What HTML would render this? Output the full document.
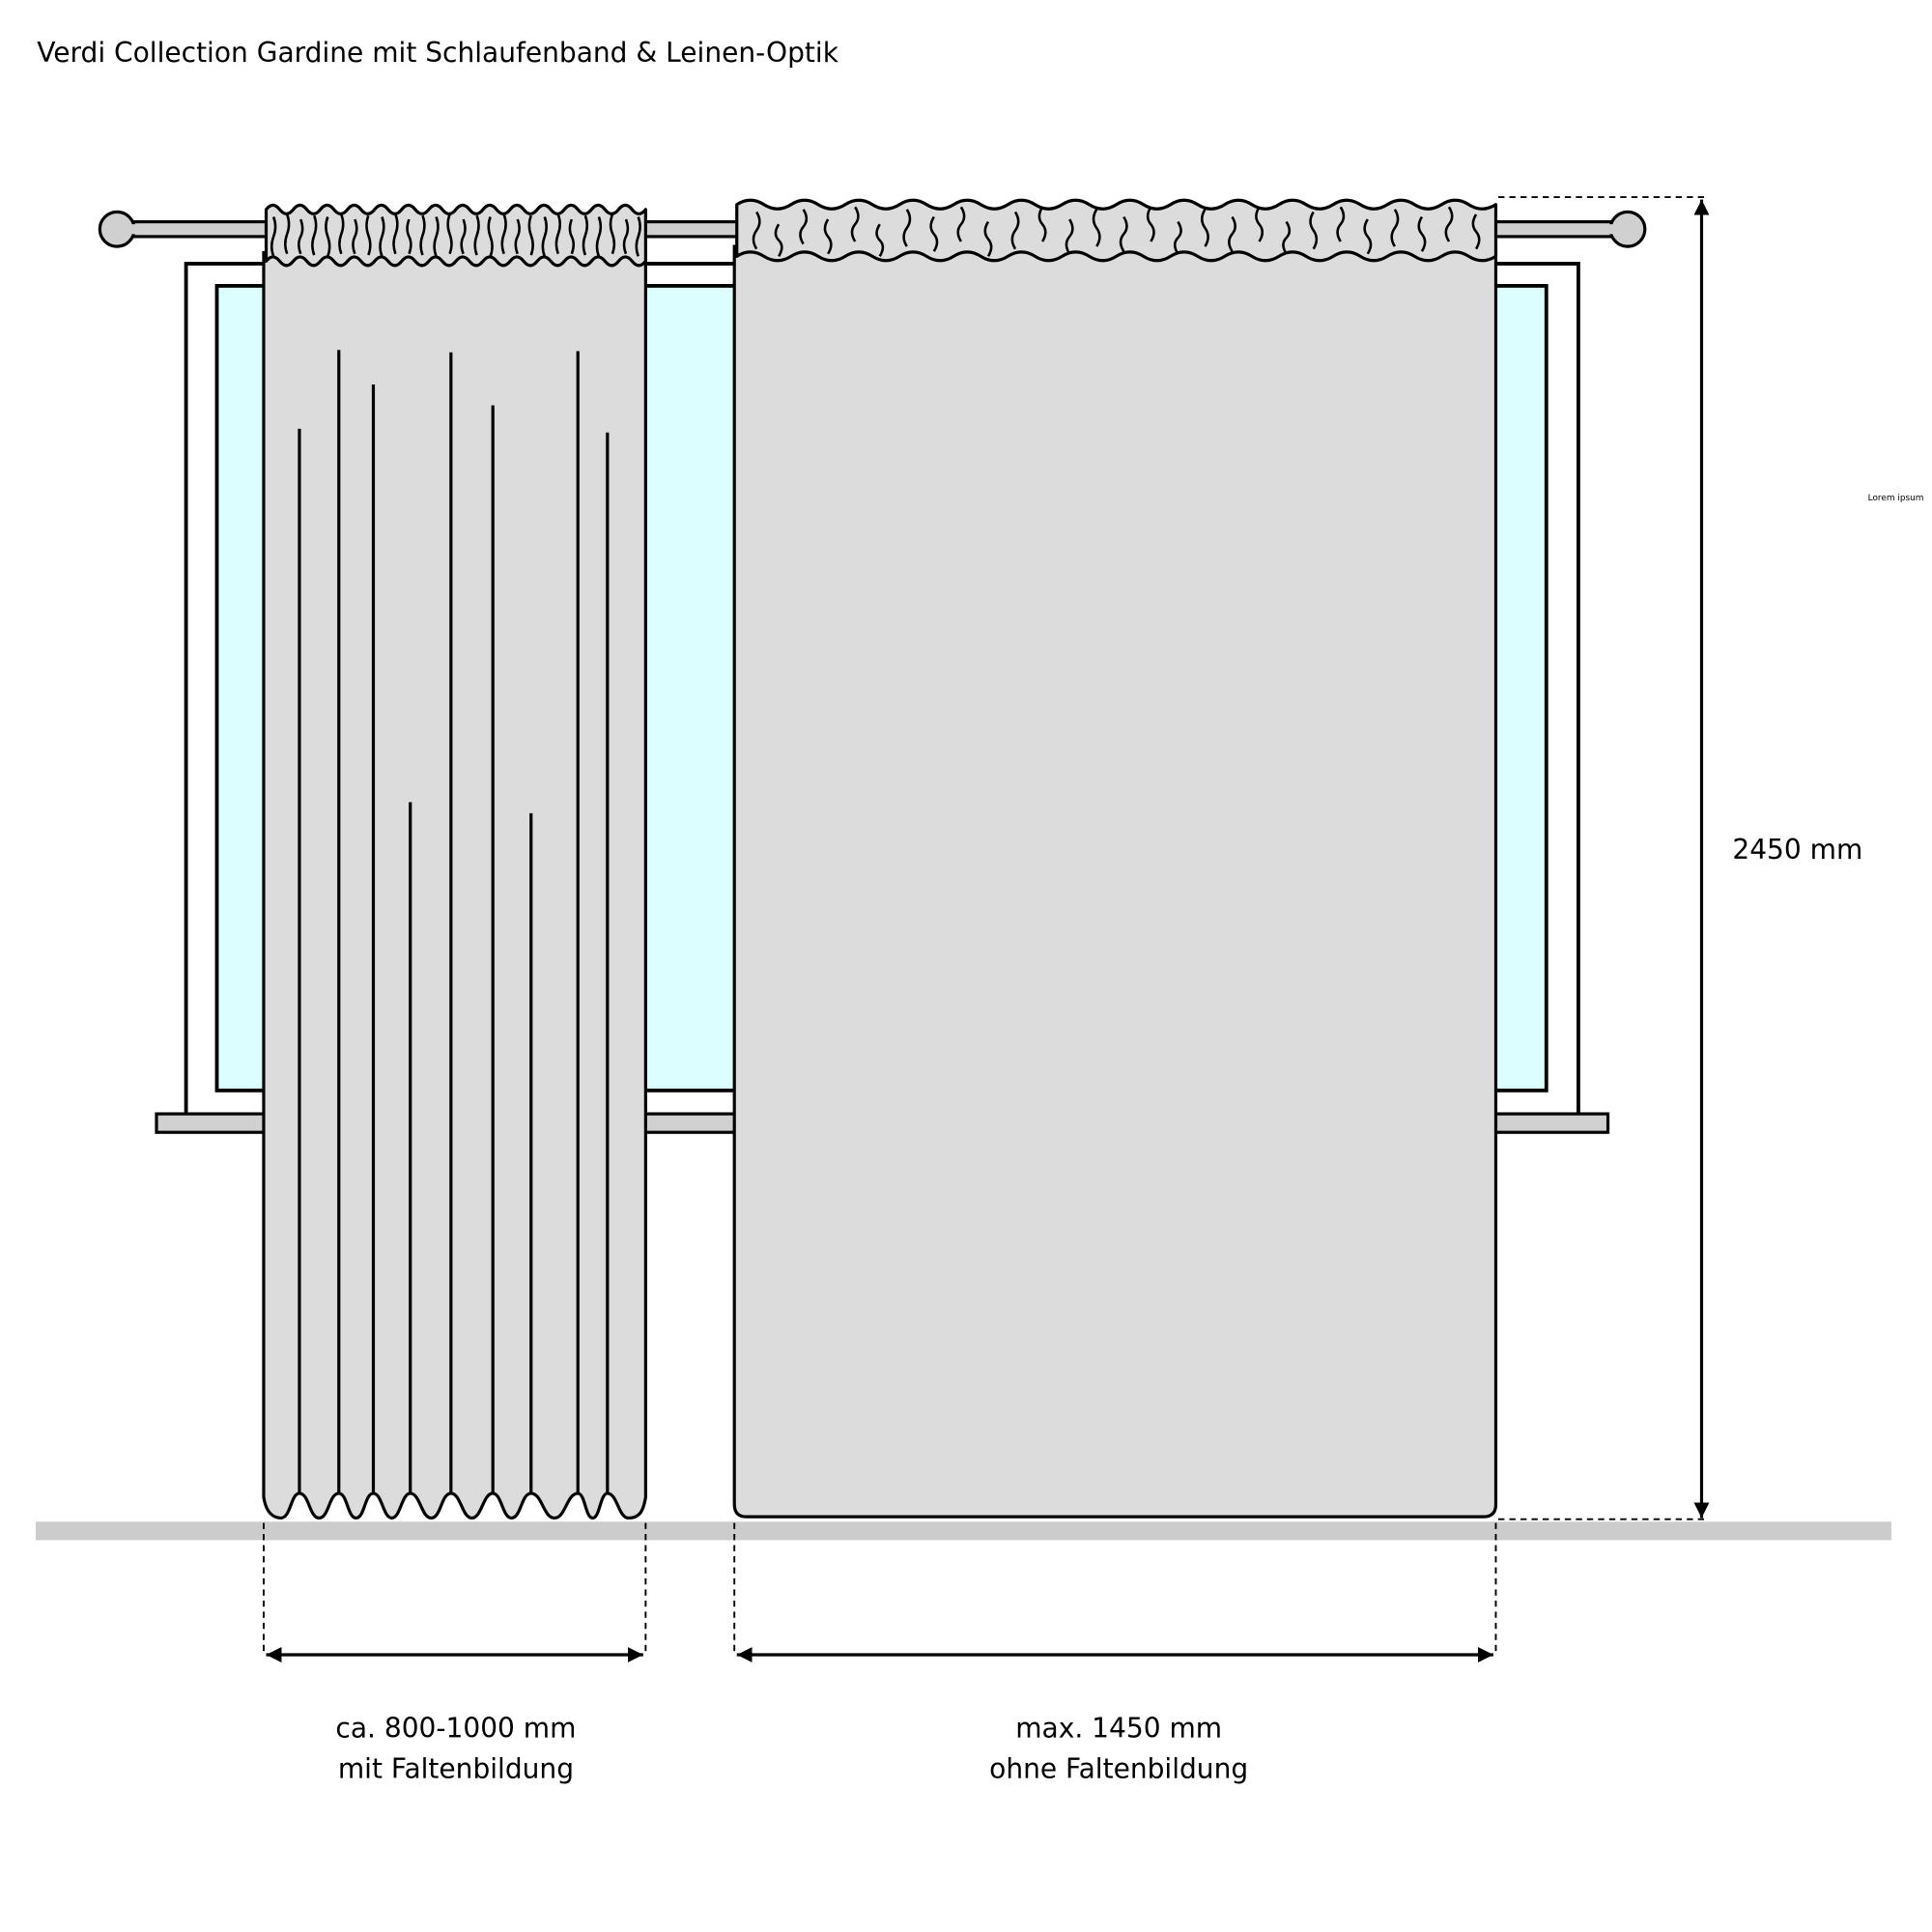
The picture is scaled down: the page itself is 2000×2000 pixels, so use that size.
<!DOCTYPE html>
<html><head><meta charset="utf-8"><style>
html,body{margin:0;padding:0;background:#fff;}
svg{display:block;}
text{font-family:"DejaVu Sans","Liberation Sans",sans-serif;fill:#000;}
</style></head><body>
<svg width="2000" height="2000" viewBox="0 0 1568 1568" xmlns="http://www.w3.org/2000/svg">
<defs>
<marker id="ah" viewBox="0 0 10 10" refX="10" refY="5" markerWidth="5" markerHeight="5" orient="auto-start-reverse" markerUnits="strokeWidth">
<path d="M0,0 L10,5 L0,10 Z" fill="#000"/></marker>
</defs>
<text x="30" y="50" font-size="22">Verdi Collection Gardine mit Schlaufenband &amp; Leinen-Optik</text>

<!-- window -->
<rect x="151" y="214" width="1130" height="691" fill="#fff" stroke="#000" stroke-width="3"/>
<rect x="176" y="232" width="1079" height="653" fill="#dcfefe" stroke="#000" stroke-width="3"/>
<rect x="127" y="904" width="1178" height="15" fill="#d0d0d0" stroke="#000" stroke-width="2.5"/>

<!-- rod -->
<rect x="100" y="180" width="1215" height="12" fill="#d0d0d0" stroke="#000" stroke-width="2.5"/>
<circle cx="95" cy="186" r="14" fill="#d0d0d0" stroke="#000" stroke-width="2.5"/>
<circle cx="1321" cy="186" r="14" fill="#d0d0d0" stroke="#000" stroke-width="2.5"/>
<rect x="105" y="182" width="16" height="8" fill="#d0d0d0"/>
<rect x="1295" y="182" width="16" height="8" fill="#d0d0d0"/>

<!-- floor -->
<rect x="29" y="1235" width="1506" height="15" fill="#cccccc"/>

<!-- left curtain -->
<path d="M214,205 L214,1215 C216,1228 222,1232 228,1232 C236,1232 236,1212 243,1212 C251,1212 251,1232 259,1232 C267,1232 267,1212 275,1212 C282,1212 282,1232 289,1232 C296,1232 296,1212 303,1212 C310,1212 311,1232 318,1232 C325,1232 326,1212 333,1212 C341,1212 342,1232 350,1232 C358,1232 358,1212 366,1212 C374,1212 375,1232 383,1232 C391,1232 392,1212 400,1212 C407,1212 408,1232 415,1232 C423,1232 423,1212 431,1212 C440,1212 441,1232 450,1232 C459,1232 460,1212 469,1212 C475,1212 475,1232 481,1232 C487,1232 487,1212 493,1212 C501,1212 502,1232 510,1232 C518,1232 522,1228 524,1215 L524,205 Z" fill="#dcdcdc" stroke="#000" stroke-width="2.5"/>
<g stroke="#000" stroke-width="2.5">
<line x1="243" y1="348" x2="243" y2="1212"/>
<line x1="275" y1="284" x2="275" y2="1212"/>
<line x1="303" y1="312" x2="303" y2="1212"/>
<line x1="333" y1="651" x2="333" y2="1212"/>
<line x1="366" y1="286" x2="366" y2="1212"/>
<line x1="400" y1="329" x2="400" y2="1212"/>
<line x1="431" y1="660" x2="431" y2="1212"/>
<line x1="469" y1="285" x2="469" y2="1212"/>
<line x1="493" y1="351" x2="493" y2="1212"/>
</g>
<path d="M216,170 q5.5,-7 11,0 t11,0 t11,0 t11,0 t11,0 t11,0 t11,0 t11,0 t11,0 t11,0 t11,0 t11,0 t11,0 t11,0 t11,0 t11,0 t11,0 t11,0 t11,0 t11,0 t11,0 t11,0 t11,0 t11,0 t11,0 t11,0 t11,0 t11,0 L524,212 q-5.5,7 -11,0 t-11,0 t-11,0 t-11,0 t-11,0 t-11,0 t-11,0 t-11,0 t-11,0 t-11,0 t-11,0 t-11,0 t-11,0 t-11,0 t-11,0 t-11,0 t-11,0 t-11,0 t-11,0 t-11,0 t-11,0 t-11,0 t-11,0 t-11,0 t-11,0 t-11,0 t-11,0 t-11,0 Z" fill="#dcdcdc" stroke="#000" stroke-width="2.5" stroke-linejoin="round"/>
<path d="M222,176 q3,8 0,16 t0,16 M233,174 q3,8 0,16 t0,16 M244,178 q3,8 0,14 t0,14 M255,175 q3,8 0,16 t0,16 M266,176 q-3,8 0,16 t0,16 M277,174 q3,8 0,16 t0,16 M288,178 q3,8 0,14 t0,14 M299,175 q-3,8 0,16 t0,16 M310,176 q3,8 0,16 t0,16 M321,174 q3,8 0,16 t0,16 M332,178 q-3,8 0,14 t0,14 M343,175 q3,8 0,16 t0,16 M354,176 q3,8 0,16 t0,16 M365,174 q-3,8 0,16 t0,16 M376,178 q3,8 0,14 t0,14 M387,175 q3,8 0,16 t0,16 M398,176 q-3,8 0,16 t0,16 M409,174 q3,8 0,16 t0,16 M420,178 q3,8 0,14 t0,14 M431,175 q-3,8 0,16 t0,16 M442,176 q3,8 0,16 t0,16 M453,174 q3,8 0,16 t0,16 M464,178 q-3,8 0,14 t0,14 M475,175 q3,8 0,16 t0,16 M486,176 q3,8 0,16 t0,16 M497,174 q-3,8 0,16 t0,16 M508,178 q3,8 0,14 t0,14 M518,176 q3,8 0,16 t0,16" fill="none" stroke="#000" stroke-width="2"/>

<!-- right curtain -->
<path d="M596,200 L596,1221 Q596,1231 606,1231 L1204,1231 Q1214,1231 1214,1221 L1214,200 Z" fill="#dcdcdc" stroke="#000" stroke-width="2.5"/>
<path d="M598,166 q11,-7 22,0 t22,0 t22,0 t22,0 t22,0 t22,0 t22,0 t22,0 t22,0 t22,0 t22,0 t22,0 t22,0 t22,0 t22,0 t22,0 t22,0 t22,0 t22,0 t22,0 t22,0 t22,0 t22,0 t22,0 t22,0 t22,0 t22,0 t22,0 L1214,208 q-11,7 -22,0 t-22,0 t-22,0 t-22,0 t-22,0 t-22,0 t-22,0 t-22,0 t-22,0 t-22,0 t-22,0 t-22,0 t-22,0 t-22,0 t-22,0 t-22,0 t-22,0 t-22,0 t-22,0 t-22,0 t-22,0 t-22,0 t-22,0 t-22,0 t-22,0 t-22,0 t-22,0 t-22,0 Z" fill="#dcdcdc" stroke="#000" stroke-width="2.5" stroke-linejoin="round"/>
<path d="M614,172 q5,8 0,15 t0,15 M632,182 q-5,8 0,13 t0,13 M652,170 q5,8 0,14 t0,14 M672,178 q-5,8 0,14 t0,14 M694,168 q5,8 0,14 t0,14 M714,182 q-5,8 0,13 t0,13 M736,170 q5,8 0,15 t0,15 M758,176 q-5,8 0,14 t0,14 M780,168 q5,8 0,14 t0,14 M802,180 q-5,8 0,14 t0,14 M824,172 q5,8 0,15 t0,15 M846,168 q-5,8 0,14 t0,14 M868,178 q5,8 0,14 t0,14 M890,170 q-5,8 0,15 t0,15 M912,176 q5,8 0,14 t0,14 M934,168 q-5,8 0,14 t0,14 M956,180 q5,8 0,13 t0,13 M978,170 q-5,8 0,15 t0,15 M1000,176 q5,8 0,14 t0,14 M1022,168 q-5,8 0,14 t0,14 M1044,180 q5,8 0,13 t0,13 M1066,172 q-5,8 0,15 t0,15 M1088,168 q5,8 0,14 t0,14 M1110,178 q-5,8 0,14 t0,14 M1132,170 q5,8 0,15 t0,15 M1154,176 q-5,8 0,14 t0,14 M1176,168 q5,8 0,14 t0,14 M1198,174 q-5,8 0,14 t0,14" fill="none" stroke="#000" stroke-width="2"/>

<!-- dimensions -->
<g stroke="#000" stroke-width="1.5" stroke-dasharray="5,4" fill="none">
<line x1="1216" y1="160" x2="1383" y2="160"/>
<line x1="1216" y1="1233" x2="1383" y2="1233"/>
<line x1="214" y1="1236" x2="214" y2="1343"/>
<line x1="524" y1="1236" x2="524" y2="1343"/>
<line x1="596" y1="1236" x2="596" y2="1343"/>
<line x1="1214" y1="1236" x2="1214" y2="1343"/>
</g>
<g stroke="#000" stroke-width="2.5">
<line x1="1381" y1="162" x2="1381" y2="1232" marker-start="url(#ah)" marker-end="url(#ah)"/>
<line x1="216" y1="1343" x2="522" y2="1343" marker-start="url(#ah)" marker-end="url(#ah)"/>
<line x1="598" y1="1343" x2="1212" y2="1343" marker-start="url(#ah)" marker-end="url(#ah)"/>
</g>
<text x="1406" y="697" font-size="22">2450 mm</text>
<text x="1516" y="406" font-size="7">Lorem ipsum</text>
<text x="370" y="1410" font-size="22" text-anchor="middle">ca. 800-1000 mm</text>
<text x="370" y="1443" font-size="22" text-anchor="middle">mit Faltenbildung</text>
<text x="908" y="1410" font-size="22" text-anchor="middle">max. 1450 mm</text>
<text x="908" y="1443" font-size="22" text-anchor="middle">ohne Faltenbildung</text>
</svg>
</body></html>
